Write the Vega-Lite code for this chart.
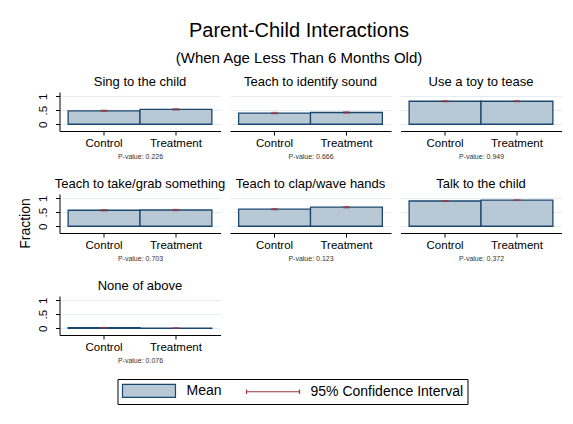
{
  "$schema": "https://vega.github.io/schema/vega-lite/v6.json",
  "background": "white",
  "padding": {"left": 17.5, "top": 20, "right": 5, "bottom": 5},
  "title": {"text": "Parent-Child Interactions", "subtitle": "(When Age Less Than 6 Months Old)", "fontSize": 20, "subtitleFontSize": 15, "subtitleColor": "#000", "color": "#000", "anchor": "middle", "offset": 10, "subtitlePadding": 10, "dx": 9},
  "data": {"values": [
    {"panel": "Sing to the child", "group": "Control", "mean": 0.48, "lo": 0.455, "hi": 0.505},
    {"panel": "Sing to the child", "group": "Treatment", "mean": 0.53, "lo": 0.505, "hi": 0.555},
    {"panel": "Teach to identify sound", "group": "Control", "mean": 0.40, "lo": 0.375, "hi": 0.425},
    {"panel": "Teach to identify sound", "group": "Treatment", "mean": 0.42, "lo": 0.395, "hi": 0.445},
    {"panel": "Use a toy to tease", "group": "Control", "mean": 0.82, "lo": 0.80, "hi": 0.84},
    {"panel": "Use a toy to tease", "group": "Treatment", "mean": 0.82, "lo": 0.80, "hi": 0.84},
    {"panel": "Teach to take/grab something", "group": "Control", "mean": 0.57, "lo": 0.545, "hi": 0.595},
    {"panel": "Teach to take/grab something", "group": "Treatment", "mean": 0.58, "lo": 0.555, "hi": 0.605},
    {"panel": "Teach to clap/wave hands", "group": "Control", "mean": 0.61, "lo": 0.585, "hi": 0.635},
    {"panel": "Teach to clap/wave hands", "group": "Treatment", "mean": 0.68, "lo": 0.655, "hi": 0.705},
    {"panel": "Talk to the child", "group": "Control", "mean": 0.90, "lo": 0.885, "hi": 0.915},
    {"panel": "Talk to the child", "group": "Treatment", "mean": 0.93, "lo": 0.915, "hi": 0.945},
    {"panel": "None of above", "group": "Control", "mean": 0.02, "lo": 0.008, "hi": 0.032},
    {"panel": "None of above", "group": "Treatment", "mean": 0.008, "lo": 0.0, "hi": 0.016}
  ]},
  "bounds": "flush",
  "columns": 3,
  "spacing": {"row": 63, "column": 9.5},
  "concat": [
    {
      "title": "Sing to the child", "width": 161, "height": 39,
      "transform": [{"filter": "datum.panel === 'Sing to the child'"}],
      "encoding": {"x": {"field": "group", "type": "nominal", "scale": {"paddingInner": 0, "paddingOuter": 0.12}, "axis": {"title": "P-value: 0.226"}}},
      "layer": [
        {"mark": {"type": "bar", "fill": "#b8c8d4", "stroke": "#1a476f", "strokeWidth": 1.3}, "encoding": {"y": {"field": "mean", "type": "quantitative", "scale": {"domain": [-0.24, 1.15], "nice": false, "zero": false}, "axis": {"tickCount": 3, "labelExpr": "datum.value === 0.5 ? '.5' : (datum.value === 1 ? '1' : '0')", "labelAngle": -90, "labelOverlap": false, "title": null, "grid": true, "labelPadding": 7, "tickSize": 4}}}},
        {"mark": {"type": "rule", "color": "#a0353b", "strokeWidth": 1}, "encoding": {"y": {"field": "lo", "type": "quantitative"}, "y2": {"field": "hi"}}},
        {"mark": {"type": "tick", "color": "#a0353b", "size": 7, "thickness": 1}, "encoding": {"y": {"field": "lo", "type": "quantitative"}}},
        {"mark": {"type": "tick", "color": "#a0353b", "size": 7, "thickness": 1}, "encoding": {"y": {"field": "hi", "type": "quantitative"}}},
        {"data": {"values": [{"legend": "Mean"}, {"legend": "95% Confidence Interval"}]},
         "mark": {"type": "point", "opacity": 0, "filled": true, "fill": "#b8c8d4"},
         "encoding": {
           "x": {"datum": "Control"},
           "y": {"datum": 0},
           "stroke": {"field": "legend", "type": "nominal", "scale": {"domain": ["Mean", "95% Confidence Interval"], "range": ["#1a476f", "#a0353b"]}, "legend": {"title": null, "orient": "none", "legendX": 58, "legendY": 287, "direction": "horizontal", "strokeColor": "#000", "fillColor": "white", "padding": 4, "labelFontSize": 14, "labelOffset": 50, "columnPadding": 21, "symbolSize": 169, "symbolStrokeWidth": 1.2, "symbolOpacity": 1, "symbolFillColor": "#b8c8d4", "labelColor": "#000"}},
           "shape": {"field": "legend", "type": "nominal", "scale": {"domain": ["Mean", "95% Confidence Interval"], "range": ["M-1,-1H7.15V1H-1Z", "M-1,0H7.15M-1,-0.36V0.36M7.15,-0.36V0.36"]}, "legend": {"title": null}}
         }}
      ]
    },
    {
      "title": "Teach to identify sound", "width": 161, "height": 39,
      "transform": [{"filter": "datum.panel === 'Teach to identify sound'"}],
      "encoding": {"x": {"field": "group", "type": "nominal", "scale": {"paddingInner": 0, "paddingOuter": 0.12}, "axis": {"title": "P-value: 0.666"}}},
      "layer": [
        {"mark": {"type": "bar", "fill": "#b8c8d4", "stroke": "#1a476f", "strokeWidth": 1.3}, "encoding": {"y": {"field": "mean", "type": "quantitative", "scale": {"domain": [-0.24, 1.15], "nice": false, "zero": false}, "axis": {"tickCount": 3, "labels": false, "ticks": false, "domain": false, "title": null, "grid": true}}}},
        {"mark": {"type": "rule", "color": "#a0353b", "strokeWidth": 1}, "encoding": {"y": {"field": "lo", "type": "quantitative"}, "y2": {"field": "hi"}}},
        {"mark": {"type": "tick", "color": "#a0353b", "size": 7, "thickness": 1}, "encoding": {"y": {"field": "lo", "type": "quantitative"}}},
        {"mark": {"type": "tick", "color": "#a0353b", "size": 7, "thickness": 1}, "encoding": {"y": {"field": "hi", "type": "quantitative"}}}
      ]
    },
    {
      "title": "Use a toy to tease", "width": 161, "height": 39,
      "transform": [{"filter": "datum.panel === 'Use a toy to tease'"}],
      "encoding": {"x": {"field": "group", "type": "nominal", "scale": {"paddingInner": 0, "paddingOuter": 0.12}, "axis": {"title": "P-value: 0.949"}}},
      "layer": [
        {"mark": {"type": "bar", "fill": "#b8c8d4", "stroke": "#1a476f", "strokeWidth": 1.3}, "encoding": {"y": {"field": "mean", "type": "quantitative", "scale": {"domain": [-0.24, 1.15], "nice": false, "zero": false}, "axis": {"tickCount": 3, "labels": false, "ticks": false, "domain": false, "title": null, "grid": true}}}},
        {"mark": {"type": "rule", "color": "#a0353b", "strokeWidth": 1}, "encoding": {"y": {"field": "lo", "type": "quantitative"}, "y2": {"field": "hi"}}},
        {"mark": {"type": "tick", "color": "#a0353b", "size": 7, "thickness": 1}, "encoding": {"y": {"field": "lo", "type": "quantitative"}}},
        {"mark": {"type": "tick", "color": "#a0353b", "size": 7, "thickness": 1}, "encoding": {"y": {"field": "hi", "type": "quantitative"}}}
      ]
    },
    {
      "title": "Teach to take/grab something", "width": 161, "height": 39,
      "transform": [{"filter": "datum.panel === 'Teach to take/grab something'"}],
      "encoding": {"x": {"field": "group", "type": "nominal", "scale": {"paddingInner": 0, "paddingOuter": 0.12}, "axis": {"title": "P-value: 0.703"}}},
      "layer": [
        {"mark": {"type": "bar", "fill": "#b8c8d4", "stroke": "#1a476f", "strokeWidth": 1.3}, "encoding": {"y": {"field": "mean", "type": "quantitative", "scale": {"domain": [-0.24, 1.15], "nice": false, "zero": false}, "axis": {"tickCount": 3, "labelExpr": "datum.value === 0.5 ? '.5' : (datum.value === 1 ? '1' : '0')", "labelAngle": -90, "labelOverlap": false, "title": "Fraction", "titleFontSize": 14, "titleY": 29, "titlePadding": 5, "grid": true, "labelPadding": 7, "tickSize": 4}}}},
        {"mark": {"type": "rule", "color": "#a0353b", "strokeWidth": 1}, "encoding": {"y": {"field": "lo", "type": "quantitative"}, "y2": {"field": "hi"}}},
        {"mark": {"type": "tick", "color": "#a0353b", "size": 7, "thickness": 1}, "encoding": {"y": {"field": "lo", "type": "quantitative"}}},
        {"mark": {"type": "tick", "color": "#a0353b", "size": 7, "thickness": 1}, "encoding": {"y": {"field": "hi", "type": "quantitative"}}}
      ]
    },
    {
      "title": "Teach to clap/wave hands", "width": 161, "height": 39,
      "transform": [{"filter": "datum.panel === 'Teach to clap/wave hands'"}],
      "encoding": {"x": {"field": "group", "type": "nominal", "scale": {"paddingInner": 0, "paddingOuter": 0.12}, "axis": {"title": "P-value: 0.123"}}},
      "layer": [
        {"mark": {"type": "bar", "fill": "#b8c8d4", "stroke": "#1a476f", "strokeWidth": 1.3}, "encoding": {"y": {"field": "mean", "type": "quantitative", "scale": {"domain": [-0.24, 1.15], "nice": false, "zero": false}, "axis": {"tickCount": 3, "labels": false, "ticks": false, "domain": false, "title": null, "grid": true}}}},
        {"mark": {"type": "rule", "color": "#a0353b", "strokeWidth": 1}, "encoding": {"y": {"field": "lo", "type": "quantitative"}, "y2": {"field": "hi"}}},
        {"mark": {"type": "tick", "color": "#a0353b", "size": 7, "thickness": 1}, "encoding": {"y": {"field": "lo", "type": "quantitative"}}},
        {"mark": {"type": "tick", "color": "#a0353b", "size": 7, "thickness": 1}, "encoding": {"y": {"field": "hi", "type": "quantitative"}}}
      ]
    },
    {
      "title": "Talk to the child", "width": 161, "height": 39,
      "transform": [{"filter": "datum.panel === 'Talk to the child'"}],
      "encoding": {"x": {"field": "group", "type": "nominal", "scale": {"paddingInner": 0, "paddingOuter": 0.12}, "axis": {"title": "P-value: 0.372"}}},
      "layer": [
        {"mark": {"type": "bar", "fill": "#b8c8d4", "stroke": "#1a476f", "strokeWidth": 1.3}, "encoding": {"y": {"field": "mean", "type": "quantitative", "scale": {"domain": [-0.24, 1.15], "nice": false, "zero": false}, "axis": {"tickCount": 3, "labels": false, "ticks": false, "domain": false, "title": null, "grid": true}}}},
        {"mark": {"type": "rule", "color": "#a0353b", "strokeWidth": 1}, "encoding": {"y": {"field": "lo", "type": "quantitative"}, "y2": {"field": "hi"}}},
        {"mark": {"type": "tick", "color": "#a0353b", "size": 7, "thickness": 1}, "encoding": {"y": {"field": "lo", "type": "quantitative"}}},
        {"mark": {"type": "tick", "color": "#a0353b", "size": 7, "thickness": 1}, "encoding": {"y": {"field": "hi", "type": "quantitative"}}}
      ]
    },
    {
      "title": "None of above", "width": 161, "height": 39,
      "transform": [{"filter": "datum.panel === 'None of above'"}],
      "encoding": {"x": {"field": "group", "type": "nominal", "scale": {"paddingInner": 0, "paddingOuter": 0.12}, "axis": {"title": "P-value: 0.076"}}},
      "layer": [
        {"mark": {"type": "bar", "fill": "#b8c8d4", "stroke": "#1a476f", "strokeWidth": 1.3}, "encoding": {"y": {"field": "mean", "type": "quantitative", "scale": {"domain": [-0.24, 1.15], "nice": false, "zero": false}, "axis": {"tickCount": 3, "labelExpr": "datum.value === 0.5 ? '.5' : (datum.value === 1 ? '1' : '0')", "labelAngle": -90, "labelOverlap": false, "title": null, "grid": true, "labelPadding": 7, "tickSize": 4}}}},
        {"mark": {"type": "rule", "color": "#a0353b", "strokeWidth": 1}, "encoding": {"y": {"field": "lo", "type": "quantitative"}, "y2": {"field": "hi"}}},
        {"mark": {"type": "tick", "color": "#a0353b", "size": 7, "thickness": 1}, "encoding": {"y": {"field": "lo", "type": "quantitative"}}},
        {"mark": {"type": "tick", "color": "#a0353b", "size": 7, "thickness": 1}, "encoding": {"y": {"field": "hi", "type": "quantitative"}}}
      ]
    }
  ],
  "config": {
    "font": "Liberation Sans",
    "view": {"stroke": null},
    "title": {"fontSize": 13, "fontWeight": "normal", "color": "#000", "offset": 3.5},
    "axis": {"labelColor": "#000", "titleColor": "#000", "domainColor": "#000", "tickColor": "#000", "gridColor": "#e4eef1", "labelFontSize": 11.5, "titleFontWeight": "normal", "labelOverlap": false},
    "axisX": {"labelAngle": 0, "tickSize": 4, "labelPadding": 2, "titleFontSize": 7, "titleColor": "#333", "titlePadding": 4},
    "axisY": {"tickSize": 4, "labelOverlap": false, "labelFlush": false}
  }
}
